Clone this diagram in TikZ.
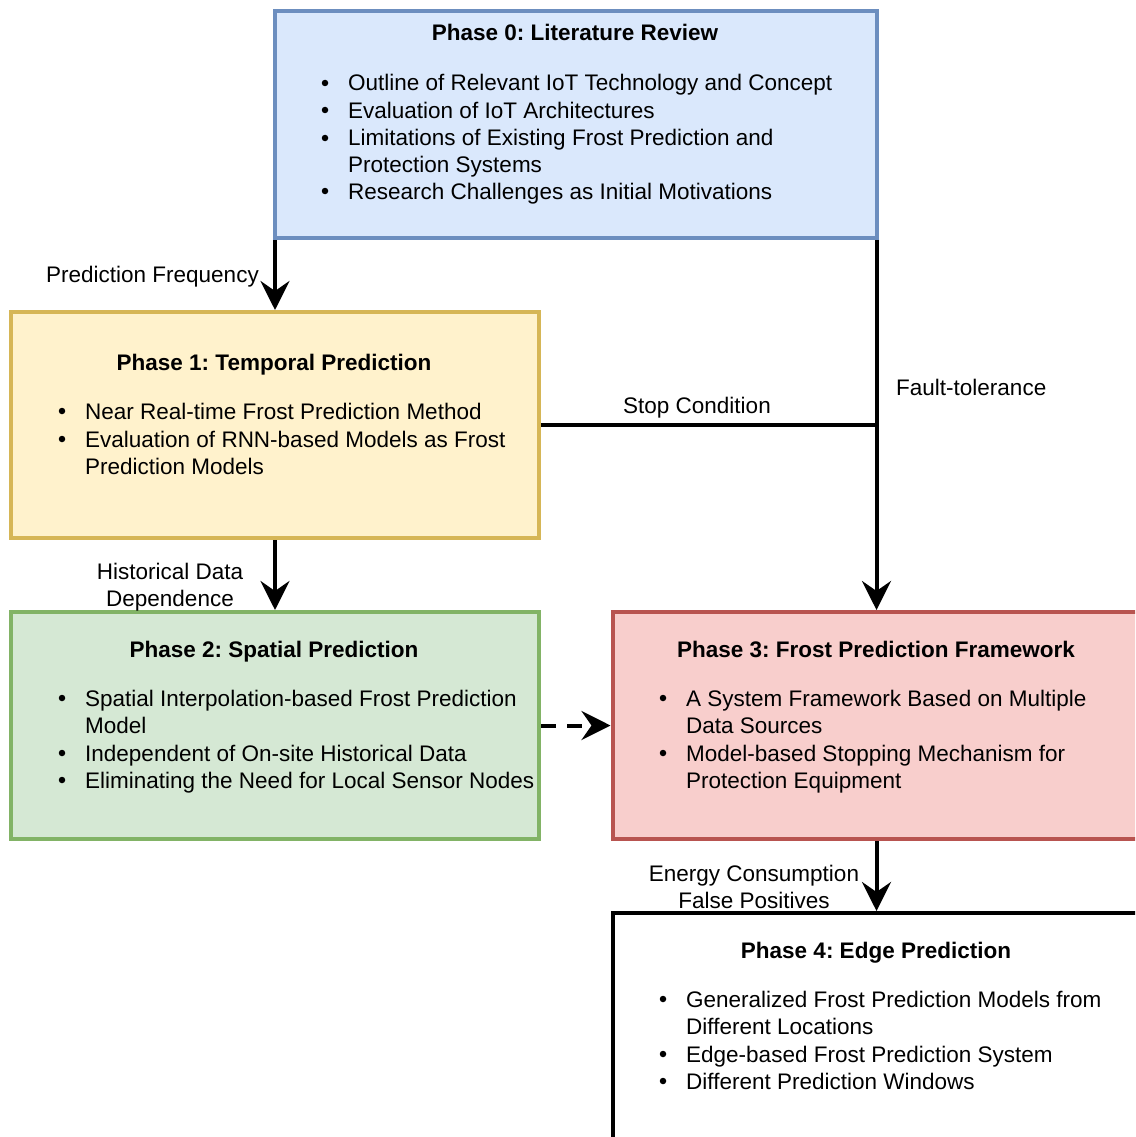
\documentclass[tikz,border=0pt]{standalone}
\usepackage{fontspec}
\setmainfont{Liberation Sans}
\usetikzlibrary{arrows.meta}
\frenchspacing

\definecolor{blueFill}{HTML}{DAE8FC}\definecolor{blueLine}{HTML}{6C8EBF}
\definecolor{yellowFill}{HTML}{FFF2CC}\definecolor{yellowLine}{HTML}{D6B656}
\definecolor{greenFill}{HTML}{D5E8D4}\definecolor{greenLine}{HTML}{82B366}
\definecolor{redFill}{HTML}{F8CECC}\definecolor{redLine}{HTML}{B85450}

\tikzset{
  phasebox/.style={rectangle, line width=4pt, inner sep=0pt},
  txt/.style={anchor=base west, inner sep=0pt, font=\fontsize{22.5}{27}\selectfont},
  ttl/.style={anchor=base, inner sep=0pt, font=\fontsize{22.5}{27}\selectfont\bfseries},
  bul/.style={circle, fill=black, inner sep=0pt, minimum size=6.5pt},
  lbl/.style={inner sep=0pt, font=\fontsize{22.5}{27}\selectfont, align=center},
  arr/.style={line width=4pt, -{Stealth[length=29pt, width=29pt, inset=10pt]}},
  link/.style={line width=4pt},
}
% one bulleted line: name, x of text, baseline y, text
\newcommand\bulletline[4]{%
  \node[bul] (#1b) at (#2-23,#3-8) {};
  \node[txt] (#1) at (#2,#3) {#4};}
% continuation line of a wrapped item
\newcommand\moreline[4]{\node[txt] (#1) at (#2,#3) {#4};}

\begin{document}
\begin{tikzpicture}[x=1pt, y=-1pt]
\useasboundingbox (0,0) rectangle (1135,1137);
\clip (0,0) rectangle (1135,1137);

% phase boxes
\node[phasebox, fill=blueFill, draw=blueLine, minimum width=602pt, minimum height=227pt] (p0) at (576,124.5) {};
\node[phasebox, fill=yellowFill, draw=yellowLine, minimum width=528pt, minimum height=226pt] (p1) at (275,425) {};
\node[phasebox, fill=greenFill, draw=greenLine, minimum width=528pt, minimum height=227pt] (p2) at (275,725.5) {};
\node[phasebox, fill=redFill, draw=redLine, minimum width=528pt, minimum height=227pt] (p3) at (876.5,725.5) {};
\node[phasebox, fill=white, draw=black, minimum width=528pt, minimum height=227pt] (p4) at (876.5,1026.5) {};

% Phase 0
\node[ttl] (t0) at (575,41) {Phase 0: Literature Review};
\bulletline{a1}{348}{91}{Outline of Relevant IoT Technology and Concept}
\bulletline{a2}{348}{118}{Evaluation of IoT Architectures}
\bulletline{a3}{348}{146}{Limitations of Existing Frost Prediction and}
\moreline{a3c}{348}{172}{Protection Systems}
\bulletline{a4}{348}{199}{Research Challenges as Initial Motivations}

% Phase 1
\node[ttl] (t1) at (274,370) {Phase 1: Temporal Prediction};
\bulletline{b1}{85}{419}{Near Real-time Frost Prediction Method}
\bulletline{b2}{85}{447}{Evaluation of RNN-based Models as Frost}
\moreline{b2c}{85}{474}{Prediction Models}

% Phase 2
\node[ttl] (t2) at (274,657) {Phase 2: Spatial Prediction};
\bulletline{c1}{85}{706}{Spatial Interpolation-based Frost Prediction}
\moreline{c1c}{85}{733}{Model}
\bulletline{c2}{85}{761}{Independent of On-site Historical Data}
\bulletline{c3}{85}{788}{Eliminating the Need for Local Sensor Nodes}

% Phase 3
\node[ttl] (t3) at (876,657) {Phase 3: Frost Prediction Framework};
\bulletline{d1}{686}{706}{A System Framework Based on Multiple}
\moreline{d1c}{686}{733}{Data Sources}
\bulletline{d2}{686}{761}{Model-based Stopping Mechanism for}
\moreline{d2c}{686}{788}{Protection Equipment}

% Phase 4
\node[ttl] (t4) at (876,958) {Phase 4: Edge Prediction};
\bulletline{e1}{686}{1007}{Generalized Frost Prediction Models from}
\moreline{e1c}{686}{1034}{Different Locations}
\bulletline{e2}{686}{1062}{Edge-based Frost Prediction System}
\bulletline{e3}{686}{1089}{Different Prediction Windows}

% connectors
\coordinate (join) at (p1.east -| p3.north);
\draw[arr] (p0.south west -| p1.north) -- (p1.north);
\draw[arr] (p0.south east -| p3.north) -- (p3.north);
\draw[link] (p1.east) -- (join);
\draw[arr] (p1.south) -- (p2.north);
\draw[arr, dash pattern=on 15pt off 11pt] (p2.east) -- (p3.west);
\draw[arr] (p3.south) -- (p4.north);

% connector labels (base anchor sits on the last line)
\node[txt, anchor=base east] (lf) at (259,282) {Prediction Frequency};
\node[txt, anchor=base] (ls) at (697,413) {Stop Condition};
\node[txt] (lt) at (896,395) {Fault-tolerance};
\node[lbl, anchor=base] (lh) at (170,606) {Historical Data\\Dependence};
\node[lbl, anchor=base] (le) at (754,908) {Energy Consumption\\False Positives};
\end{tikzpicture}
\end{document}
